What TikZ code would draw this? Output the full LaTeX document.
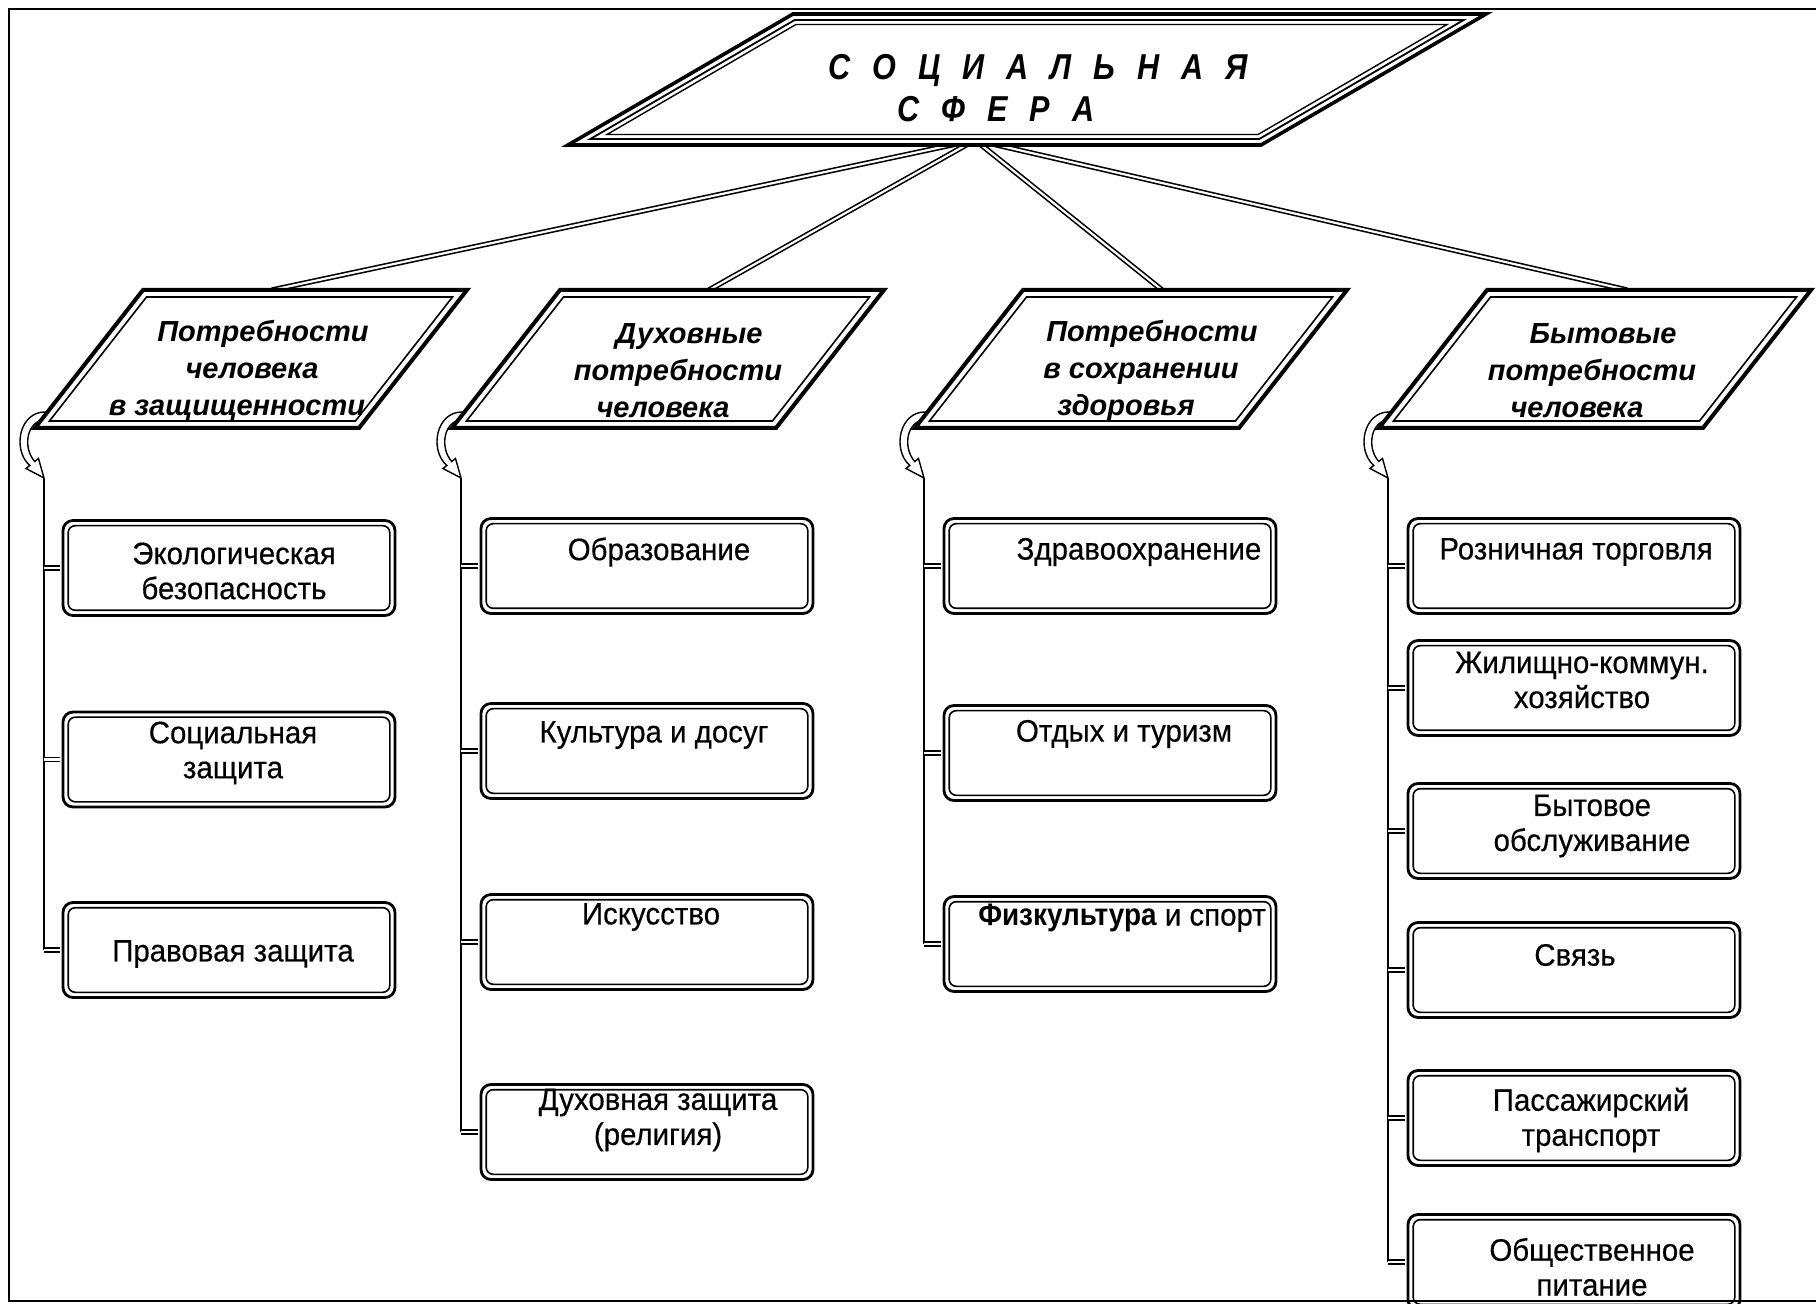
\documentclass[tikz,border=0pt]{standalone}
\usepackage{fontspec}
\setmainfont{Liberation Sans}
\newfontfamily\boxfont{Liberation Sans}[FakeStretch=0.95, FakeBold=0.4]
\newfontfamily\sportfont{Liberation Sans}[FakeStretch=0.9]
\newfontfamily\headfont{Liberation Sans}[FakeStretch=0.85]

% slanted category frame, bottom-left corner at (#1,428)
\newcommand\catpgram[1]{%
  \begin{scope}[shift={(#1,428)}, xslant=0.7826]
    \filldraw[fill=white, line width=2pt] (0,0) rectangle (324,-138);
    \draw[line width=0.8pt] (9,-7) rectangle (315,-131);
  \end{scope}}

% hollow curled arrow from a frame corner down to its column line at (#1,478)
\newcommand\curlarrow[1]{%
  \begin{scope}[shift={(#1,428)}]
    \filldraw[fill=white, line width=0.7pt]
      (2,-16) .. controls (-25,-17) and (-32,22) .. (-14.2,37.5)
      -- (-18,40.5) -- (0,50) -- (-5.5,30.5) -- (-9.3,33.5)
      .. controls (-22,19) and (-17,-8) .. (2,-8.5) -- cycle;
  \end{scope}}

\begin{document}
\begin{tikzpicture}[x=0.5pt,y=-0.5pt,
  rim/.style={line width=1.1pt},
  link/.style={double, line width=0.8pt, double distance=1.1pt},
  stub/.style={double, line width=0.75pt, double distance=1.2pt, shorten >=0.6pt},
  stem/.style={line width=1pt},
  box/.style={draw, line width=1.4pt, rounded corners=5pt, fill=white,
    minimum width=166pt, minimum height=47.5pt, inner sep=0pt,
    path picture={\draw[line width=0.8pt, rounded corners=3.5pt]
      ([shift={(2.6pt,2.6pt)}]path picture bounding box.south west) rectangle
      ([shift={(-2.6pt,-2.6pt)}]path picture bounding box.north east);}},
  boxtext/.style={font=\boxfont\fontsize{15.5pt}{17.5pt}\selectfont, align=center, inner sep=0pt},
  cattext/.style={font=\fontsize{14.5pt}{18.5pt}\selectfont\bfseries\itshape, align=center, inner sep=0pt},
  titletext/.style={font=\headfont\fontsize{18pt}{21pt}\selectfont\bfseries\itshape, align=center, inner sep=0pt},
]
\useasboundingbox (0,0) rectangle (1816,1304);

% links from the title to the four groups
\coordinate (hub) at (975,140);
\coordinate (t1) at (272,290);
\coordinate (t2) at (709,290);
\coordinate (t3) at (1162,290);
\coordinate (t4) at (1627,290);
\foreach \t in {t1,t2,t3,t4} \draw[link] (hub) -- (\t);

% title frame
\begin{scope}[shift={(568,145)}, xslant=1.7176]
  \filldraw[fill=white, line width=1.8pt] (0,0) rectangle (693,-131);
  \draw[line width=0.9pt] (12,-6) rectangle (681,-125);
  \draw[line width=0.7pt] (21,-10.5) rectangle (672,-120.5);
\end{scope}
\node[titletext] (title) at (1017,88)
  {\spaceskip=11pt\relax\leavevmode\kern21pt С О Ц И А Л Ь Н А Я\\
   \spaceskip=11pt\relax С Ф Е Р А\kern21pt};

% group frames with curled arrows
\curlarrow{44}\catpgram{35}
\curlarrow{461}\catpgram{452}
\curlarrow{924}\catpgram{915}
\curlarrow{1388}\catpgram{1379}

\node[cattext] (cat1) at (252,371) {\leavevmode\kern11pt Потребности\\человека\\в защищенности\kern15pt};
\node[cattext] (cat2) at (678,371) {\leavevmode\kern11pt Духовные\\потребности\\человека\kern15pt};
\node[cattext] (cat3) at (1141,371) {\leavevmode\kern11pt Потребности\\в сохранении\\здоровья\kern15pt};
\node[cattext] (cat4) at (1592,371) {\leavevmode\kern11pt Бытовые\\потребности\\человека\kern15pt};

% boxes
\node[box] (c1b1) at (229,568) {};
\node[box] (c1b2) at (229,759.5) {};
\node[box] (c1b3) at (229,950) {};
\node[box] (c2b1) at (647,566) {};
\node[box] (c2b2) at (647,751) {};
\node[box] (c2b3) at (647,942) {};
\node[box] (c2b4) at (647,1132) {};
\node[box] (c3b1) at (1110,566) {};
\node[box] (c3b2) at (1110,753) {};
\node[box] (c3b3) at (1110,944) {};
\node[box] (c4b1) at (1574,566) {};
\node[box] (c4b2) at (1574,688) {};
\node[box] (c4b3) at (1574,831) {};
\node[box] (c4b4) at (1574,970) {};
\node[box] (c4b5) at (1574,1118) {};
\node[box] (c4b6) at (1574,1262) {};

% box labels
\node[boxtext] (l11) at (234,571) {Экологическая\\безопасность};
\node[boxtext] (l12) at (233,753) {Социальная\\защита};
\node[boxtext] (l13) at (233,954) {Правовая защита};
\node[boxtext] (l21) at (659,552) {Образование};
\node[boxtext] (l22) at (654,735) {Культура и досуг};
\node[boxtext] (l23) at (651,917) {Искусство};
\node[boxtext] (l24) at (658,1120) {Духовная защита\\(религия)};
\node[boxtext] (l31) at (1139,552) {Здравоохранение};
\node[boxtext] (l32) at (1124,734) {Отдых и туризм};
\node[boxtext] (l33) at (1122,918) {{\sportfont\bfseries Физкультура} и спорт};
\node[boxtext] (l41) at (1576,552) {Розничная торговля};
\node[boxtext] (l42) at (1582,680) {Жилищно-коммун.\\хозяйство};
\node[boxtext] (l43) at (1592,826) {Бытовое\\обслуживание};
\node[boxtext] (l44) at (1575,955) {Связь};
\node[boxtext] (l45) at (1591,1120) {Пассажирский\\транспорт};
\node[boxtext] (l46) at (1592,1267) {Общественное\\питание};

% column stems and stubs
\coordinate (s1) at (44,478);
\coordinate (s2) at (461,478);
\coordinate (s3) at (924,478);
\coordinate (s4) at (1388,478);
\draw[stem] (s1) -- (s1 |- c1b3.west);
\draw[stem] (s2) -- (s2 |- c2b4.west);
\draw[stem] (s3) -- (s3 |- c3b3.west);
\draw[stem] (s4) -- (s4 |- c4b6.west);
\foreach \b in {c1b1,c1b2,c1b3} \draw[stub] (s1 |- \b.west) -- (\b.west);
\foreach \b in {c2b1,c2b2,c2b3,c2b4} \draw[stub] (s2 |- \b.west) -- (\b.west);
\foreach \b in {c3b1,c3b2,c3b3} \draw[stub] (s3 |- \b.west) -- (\b.west);
\foreach \b in {c4b1,c4b2,c4b3,c4b4,c4b5,c4b6} \draw[stub] (s4 |- \b.west) -- (\b.west);

% outer frame
\draw[rim] (1816,9) -- (9,9) -- (9,1301) -- (1816,1301);
\end{tikzpicture}
\end{document}
